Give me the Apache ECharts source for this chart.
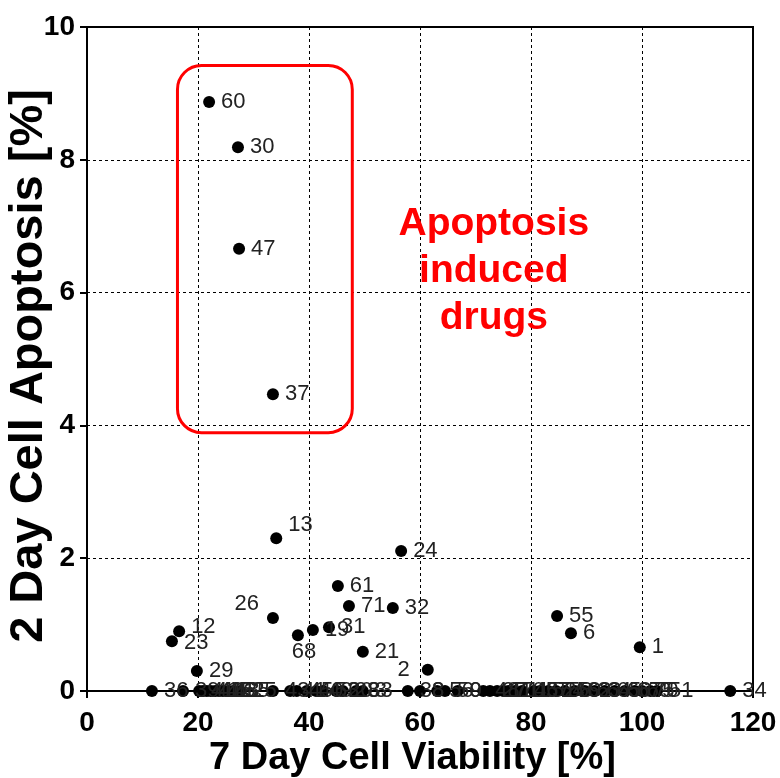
<!DOCTYPE html>
<html>
<head>
<meta charset="utf-8">
<script src="https://cdn.jsdelivr.net/npm/echarts@6/dist/echarts.min.js"></script>
<style>html,body{margin:0;padding:0;background:#fff}#c{width:780px;height:778px}</style>
</head>
<body>
<div id="c"></div>
<script>
// Drugs with non-zero apoptosis
const upX = [22.0, 27.2, 27.4, 33.5, 34.1, 56.6, 45.2, 47.2, 55.1, 33.5, 16.6, 15.3, 38.0, 40.7, 43.6, 49.7, 19.8, 61.4, 84.7, 87.2, 99.6];
const upY = [8.87, 8.19, 6.66, 4.47, 2.30, 2.11, 1.58, 1.28, 1.25, 1.10, 0.90, 0.75, 0.84, 0.92, 0.96, 0.59, 0.30, 0.32, 1.13, 0.87, 0.66];
const upLabels = ['60','30','47','37','13','24','61','71','32','26','12','23','68','19','31','21','29','2','55','6','1'];
// Drugs with zero apoptosis
const zeroX = [11.7, 17.3, 20.2, 20.9, 21.6, 22.3, 23.1, 23.8, 24.5, 25.4, 26.3, 27.6, 33.5, 36.6, 37.8, 39.6, 41.3, 42.5, 44.9, 46.1, 48.5, 49.7, 57.8, 60.0, 63.1, 64.5, 66.8, 71.4, 72.6, 73.9, 75.0, 75.9, 77.1, 78.4, 80.5, 81.6, 83.1, 84.5, 86.1, 87.9, 89.7, 91.5, 93.3, 95.1, 96.9, 98.7, 100.0, 101.5, 102.7, 115.9];
const zeroLabels = ['36','39','4','44','42','14','15','16','18','22','35','25','43','41','45','40','49','53','20','28','33','3','38','8','56','50','9','48','27','17','7','10','11','46','57','52','54','58','59','62','63','64','65','66','67','69','70','5','51','34'];
const xTicks = [0, 20, 40, 60, 80, 100, 120];
const yTicks = [0, 2, 4, 6, 8, 10];

const points = [];
upX.forEach((x, i) => points.push({name: upLabels[i], value: [x, upY[i]]}));
zeroX.forEach((x, i) => points.push({name: zeroLabels[i], value: [x, 0]}));
points.forEach(p => {
  if (p.name === '2') p.label = {position: 'left', distance: 8, offset: [-4, 0]};
  if (p.name === '26') p.label = {position: 'left', offset: [-2, -14]};
  if (p.name === '68') p.label = {position: 'bottom', offset: [6, -6]};
  if (p.name === '13') p.label = {offset: [0, -13]};
  if (p.name === '12') p.label = {offset: [0, -4]};
  if (p.name === '23') p.label = {offset: [0, 2]};
});

const chart = echarts.init(document.getElementById('c'));
const font = 'Arial, "Liberation Sans", Helvetica, sans-serif';
chart.setOption({
  animation: false,
  grid: {left: 87, right: 27, top: 27, bottom: 87, containLabel: false, outerBoundsMode: 'none',
    show: true, borderColor: '#000', borderWidth: 2},
  xAxis: {
    type: 'value', min: 0, max: 120, interval: 20,
    name: '7 Day Cell Viability [%]', nameLocation: 'middle', nameGap: 49, nameMoveOverlap: false,
    nameTextStyle: {fontFamily: font, fontWeight: 'bold', fontSize: 38, color: '#000', padding: [0, 15, 0, 0]},
    axisLine: {show: true, onZero: false, lineStyle: {color: '#000', width: 2}},
    axisTick: {show: true, length: 7, lineStyle: {color: '#000', width: 2}},
    axisLabel: {fontFamily: font, fontWeight: 'bold', fontSize: 28, color: '#000', margin: 18},
    splitLine: {show: true, lineStyle: {color: '#000', width: 1, type: [3, 3]}}
  },
  yAxis: {
    type: 'value', min: 0, max: 10, interval: 2,
    name: '2 Day Cell Apoptosis [%]', nameLocation: 'middle', nameGap: 34, nameMoveOverlap: false,
    nameTextStyle: {fontFamily: font, fontWeight: 'bold', fontSize: 47, color: '#000', padding: [0, 14, 0, 0]},
    axisLine: {show: true, lineStyle: {color: '#000', width: 2}},
    axisTick: {show: true, length: 7, lineStyle: {color: '#000', width: 2}},
    axisLabel: {fontFamily: font, fontWeight: 'bold', fontSize: 28, color: '#000', margin: 12},
    splitLine: {show: true, lineStyle: {color: '#000', width: 1, type: [3, 3]}}
  },
  series: [{
    type: 'scatter',
    symbol: 'circle', symbolSize: 12,
    itemStyle: {color: '#000', opacity: 1},
    clip: false,
    label: {show: true, position: 'right', distance: 6, formatter: p => p.name,
      fontFamily: font, fontSize: 22, color: '#222'},
    data: points,
    z: 3
  }]
});

function px(x, y) { return chart.convertToPixel({gridIndex: 0}, [x, y]); }
const a = px(16.3, 9.42), b = px(47.8, 3.89);
const t = px(73.3, 7.38);
chart.setOption({
  graphic: [
    {type: 'rect', shape: {x: a[0], y: a[1], width: b[0] - a[0], height: b[1] - a[1], r: 24},
      style: {fill: 'none', stroke: '#ff0000', lineWidth: 3}, z: 10},
    {type: 'text', x: t[0], y: t[1], style: {text: 'Apoptosis\ninduced\ndrugs', fill: '#ff0000',
      font: 'bold 39px ' + font, align: 'center', verticalAlign: 'top', lineHeight: 47}, z: 10}
  ]
});
</script>
</body>
</html>
